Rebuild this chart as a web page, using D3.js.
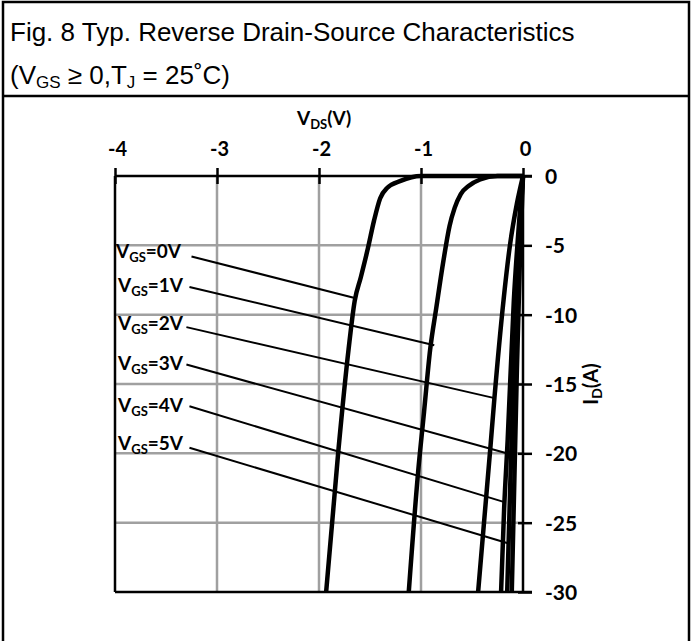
<!DOCTYPE html>
<html><head><meta charset="utf-8">
<script src="https://cdn.jsdelivr.net/npm/d3@7"></script>
<style>html,body{margin:0;padding:0;background:#fff;}svg{display:block;}</style>
</head><body>
<svg id="c" width="693" height="641"></svg>
<script>
// ---- data ----
const vTicks = [-4, -3, -2, -1, 0];
const iTicks = [0, -5, -10, -15, -20, -25, -30];
const vgsNames = ["0V", "1V", "2V", "3V", "4V", "5V"];
// curve points [V_DS, I_D]
const curveVGS0 = [[0,0],[-1.0,0],[-1.2,-0.35],[-1.33,-0.85],[-1.40,-1.6],[-1.46,-3.2],[-1.52,-5.2],[-1.59,-7.3],[-1.65,-9.0],[-1.71,-12.5],[-1.81,-19.8],[-1.93,-30]];
const curveVGS1 = [[0,0],[-0.25,0],[-0.42,-0.25],[-0.53,-0.7],[-0.61,-1.3],[-0.67,-2.3],[-0.72,-3.6],[-0.78,-6.1],[-0.85,-9.5],[-0.91,-12.5],[-0.97,-17],[-1.03,-21.5],[-1.12,-30]];
const curveVGS2 = [[0,0],[-0.06,-2],[-0.13,-5.1],[-0.19,-8.9],[-0.28,-16],[-0.32,-19.6],[-0.44,-30]];
const curveVGS3 = [[0,0],[-0.04,-3.5],[-0.09,-9],[-0.15,-19],[-0.185,-24],[-0.215,-30]];
const curveVGS4 = [[0,0],[-0.04,-5],[-0.08,-12],[-0.12,-21],[-0.155,-30]];
const curveVGS5 = [[0,0],[-0.03,-6],[-0.06,-14],[-0.11,-30]];
// label anchors and leader lines (data units)
const labelV = [-3.99, -3.97, -3.97, -3.97, -3.97, -3.97];
const labelI = [-5.9, -8.35, -11.1, -14.0, -17.0, -19.75];
const leaderStart = [[-3.25,-5.8],[-3.27,-8.0],[-3.30,-10.9],[-3.30,-13.6],[-3.27,-16.6],[-3.27,-19.6]];
const leaderEnd = [[-1.65,-8.8],[-0.87,-12.2],[-0.29,-16.0],[-0.16,-20.0],[-0.19,-23.5],[-0.14,-26.5]];

const curves = [curveVGS0, curveVGS1, curveVGS2, curveVGS3, curveVGS4, curveVGS5];

// ---- layout ----
const svg = d3.select("#c");
const x = d3.scaleLinear().domain([-4, 0]).range([115, 523]);
const y = d3.scaleLinear().domain([0, -30]).range([176, 592]);

// frame
svg.append("rect").attr("x", 3).attr("y", 2).attr("width", 686).attr("height", 700)
  .attr("fill", "none").attr("stroke", "#000").attr("stroke-width", 2.5);
svg.append("line").attr("x1", 3).attr("x2", 689).attr("y1", 96).attr("y2", 96)
  .attr("stroke", "#000").attr("stroke-width", 2.5);

const tf = "'Liberation Sans', Arial, sans-serif";
svg.append("text").attr("x", 10).attr("y", 41).attr("font-family", tf).attr("font-size", 26)
  .text("Fig. 8 Typ. Reverse Drain-Source Characteristics");
const t2 = svg.append("text").attr("x", 10).attr("y", 84).attr("font-family", tf).attr("font-size", 26);
t2.append("tspan").text("(V");
t2.append("tspan").attr("font-size", 17).attr("dy", 4).text("GS");
t2.append("tspan").attr("dy", -4).text(" \u2265 0,T");
t2.append("tspan").attr("font-size", 17).attr("dy", 4).text("J");
t2.append("tspan").attr("dy", -4).text(" = 25\u02DAC)");

const lf = "Lato, 'Open Sans', sans-serif";

// grid
const g = svg.append("g");
g.selectAll(".gv").data(vTicks.filter(v => v > -4 && v < 0)).enter().append("line")
  .attr("x1", d => x(d)).attr("x2", d => x(d)).attr("y1", y(0)).attr("y2", y(-30))
  .attr("stroke", "#a0a0a0").attr("stroke-width", 2.5);
g.selectAll(".gh").data(iTicks.filter(v => v < 0 && v > -30)).enter().append("line")
  .attr("x1", x(-4)).attr("x2", x(0)).attr("y1", d => y(d)).attr("y2", d => y(d))
  .attr("stroke", "#a0a0a0").attr("stroke-width", 2.5);

// axes
const topAxis = d3.axisTop(x).tickValues(vTicks).tickSizeInner(8).tickSizeOuter(0).tickFormat(d3.format("d"));
const ta = svg.append("g").attr("transform", `translate(0,${y(0)})`).call(topAxis);
ta.select(".domain").remove();
ta.selectAll(".tick line").attr("y1", 8).attr("stroke", "#000").attr("stroke-width", 2.5);
ta.selectAll(".tick text").attr("x", 2).attr("y", -20).attr("dy", 0).attr("font-family", lf).attr("font-weight", 700)
  .attr("font-size", 20).attr("fill", "#000").text(d => d === 0 ? "0" : "-" + Math.abs(d));

const rightAxis = d3.axisRight(y).tickValues(iTicks).tickSizeInner(9).tickSizeOuter(0);
const ra = svg.append("g").attr("transform", `translate(${x(0)},0)`).call(rightAxis);
ra.select(".domain").remove();
ra.selectAll(".tick line").attr("x1", -5).attr("stroke", "#000").attr("stroke-width", 2.5);
ra.selectAll(".tick text").attr("x", 22).attr("dy", "0.36em").attr("font-family", lf).attr("font-weight", 700)
  .attr("font-size", 21).attr("fill", "#000").attr("text-anchor", "start")
  .text(d => d === 0 ? "0" : "-" + Math.abs(d));

// plot border lines
const bl = svg.append("g").attr("stroke", "#000").attr("stroke-width", 2.5);
bl.append("line").attr("x1", x(-4)).attr("x2", x(0) + 9).attr("y1", y(0)).attr("y2", y(0));
bl.append("line").attr("x1", x(-4)).attr("x2", x(0) + 9).attr("y1", y(-30)).attr("y2", y(-30));
bl.append("line").attr("x1", x(-4)).attr("x2", x(-4)).attr("y1", y(0)).attr("y2", y(-30));
bl.append("line").attr("x1", x(0)).attr("x2", x(0)).attr("y1", y(0)).attr("y2", y(-30));

// axis titles
const xt = svg.append("text").attr("x", x(-1.95)).attr("y", 125).attr("text-anchor", "middle")
  .attr("font-family", lf).attr("font-weight", 700).attr("font-size", 19);
xt.append("tspan").text("V");
xt.append("tspan").attr("font-size", 13).attr("dy", 4).text("DS");
xt.append("tspan").attr("dy", -4).text("(V)");
const yt = svg.append("text").attr("transform", `translate(598,${y(-15)}) rotate(-90)`).attr("text-anchor", "middle")
  .attr("font-family", lf).attr("font-weight", 700).attr("font-size", 20);
yt.append("tspan").text("I");
yt.append("tspan").attr("font-size", 14).attr("dy", 4).text("D");
yt.append("tspan").attr("dy", -4).text("(A)");

// curves
const line = d3.line().x(d => x(d[0])).y(d => y(d[1])).curve(d3.curveMonotoneX);
svg.append("g").selectAll("path").data(curves).enter().append("path")
  .attr("d", d => line(d.slice().sort((a, b) => a[0] - b[0])))
  .attr("fill", "none").attr("stroke", "#000").attr("stroke-width", 4.5).attr("stroke-linejoin", "round");

// leaders
svg.append("g").selectAll("line").data(vgsNames).enter().append("line")
  .attr("x1", (d, i) => x(leaderStart[i][0])).attr("y1", (d, i) => y(leaderStart[i][1]))
  .attr("x2", (d, i) => x(leaderEnd[i][0])).attr("y2", (d, i) => y(leaderEnd[i][1]))
  .attr("stroke", "#000").attr("stroke-width", 2);

// labels
const lab = svg.append("g").selectAll("text").data(vgsNames).enter().append("text")
  .attr("x", (d, i) => x(labelV[i])).attr("y", (d, i) => y(labelI[i]))
  .attr("font-family", lf).attr("font-weight", 700).attr("font-size", 19);
lab.append("tspan").text("V");
lab.append("tspan").attr("font-size", 13).attr("dy", 4).text("GS");
lab.append("tspan").attr("dy", -4).text(d => "=" + d);
</script>
</body></html>
